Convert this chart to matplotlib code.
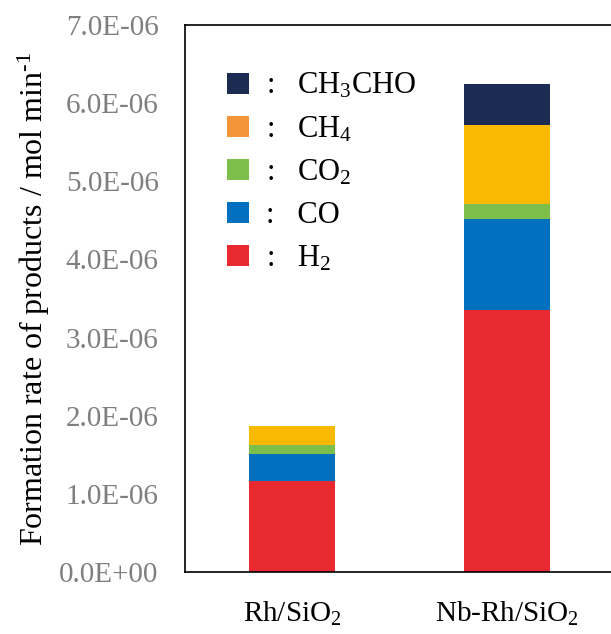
import matplotlib
matplotlib.use("Agg")
import matplotlib.pyplot as plt
from matplotlib.patches import Patch
from matplotlib.ticker import FuncFormatter, MultipleLocator
import numpy as np

plt.rcParams['font.family'] = ['Liberation Serif', 'DejaVu Serif']
plt.rcParams['mathtext.fontset'] = 'custom'
plt.rcParams['mathtext.rm'] = 'Liberation Serif'
plt.rcParams['mathtext.it'] = 'Liberation Serif'
plt.rcParams['mathtext.bf'] = 'Liberation Serif:bold'

# data (mol/min), stacked bottom -> top
catalysts = ["Rh/SiO$_2$", "Nb-Rh/SiO$_2$"]
h2 = [1.17e-6, 3.35e-6]
co = [0.34e-6, 1.17e-6]
co2 = [0.11e-6, 0.19e-6]
ch4 = [0.243e-6, 1.01e-6]
ch3cho = [0.0, 0.525e-6]

species = ["H$_2$", "CO", "CO$_2$", "CH$_4$", "CH$_3$CHO"]
bar_colors = ["#E8292F", "#0070BF", "#7DBF4A", "#F8B900", "#1B2B52"]
legend_colors = ["#E8292F", "#0070BF", "#7DBF4A", "#F39538", "#1B2B52"]

fig = plt.figure(figsize=(6.11, 6.34), dpi=100)
ax = fig.add_axes([185/611, 62/634, 429/611, 547/634])

x = np.arange(len(catalysts))
bottom = np.zeros(len(catalysts))
for vals, col in zip([h2, co, co2, ch4, ch3cho], bar_colors):
    ax.bar(x, vals, width=0.4, bottom=bottom, color=col, zorder=2)
    bottom += np.array(vals)

ax.set_xlim(-0.5, 1.5)
ax.set_ylim(0, 7e-6)
ax.yaxis.set_major_locator(MultipleLocator(1e-6))
ax.yaxis.set_major_formatter(FuncFormatter(lambda v, p: f"{v:.1E}"))
ax.set_xticks(x)
ax.set_xticklabels(catalysts, fontsize=21)
ax.tick_params(axis='y', length=0, pad=19, labelsize=21, labelcolor="#7F7F7F")
ax.tick_params(axis='x', length=0, pad=20)
for s in ax.spines.values():
    s.set_linewidth(1.2)
    s.set_color("black")

ax.set_ylabel(r"Formation rate of products / mol min$^{\text{-}1}$", fontsize=23)
ax.yaxis.set_label_coords(-0.31, 0.5)

handles = [Patch(facecolor=c) for c in legend_colors[::-1]]
labels = [":   " + s for s in species[::-1]]
ax.legend(handles, labels, loc='upper left', bbox_to_anchor=(0.099, 0.915),
          frameon=False, fontsize=22, handlelength=0.7, handleheight=0.7,
          handletextpad=0.55, labelspacing=0.45, borderaxespad=0, borderpad=0)

fig.savefig("out.png", dpi=100)
